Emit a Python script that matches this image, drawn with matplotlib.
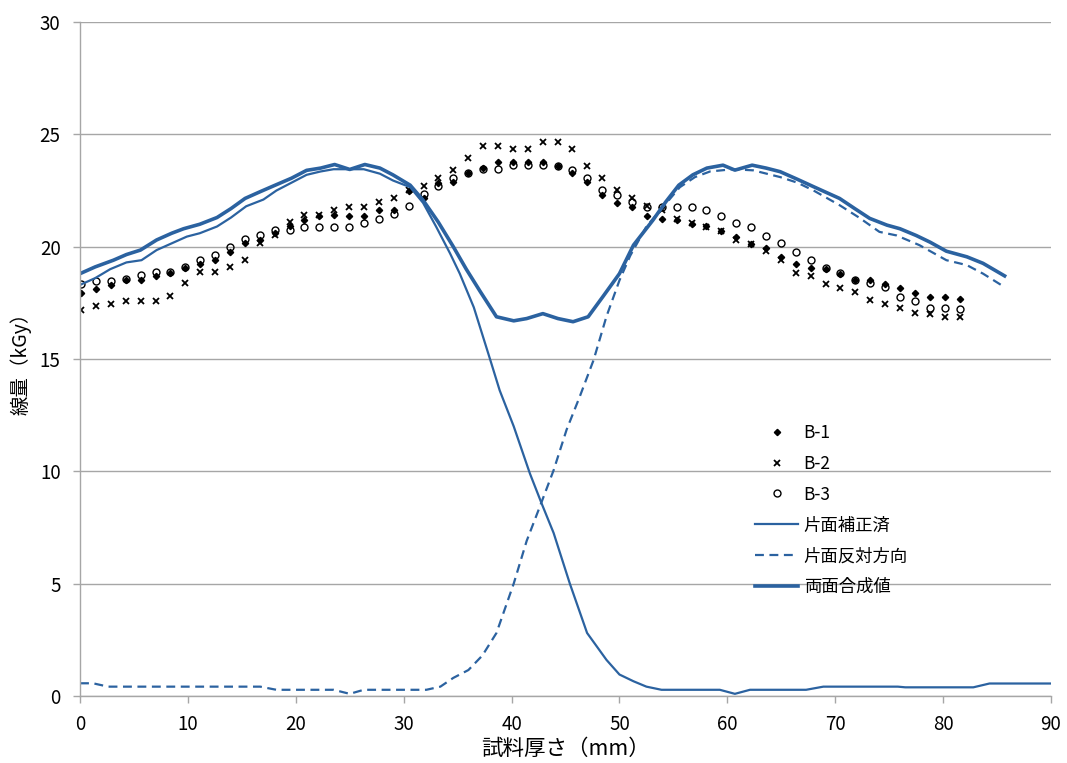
import numpy as np
import matplotlib
matplotlib.use("Agg")
import matplotlib.pyplot as plt

plt.rcParams['font.family'] = ['Noto Sans CJK JP', 'DejaVu Sans']

# 測定点 (B-1, B-2, B-3) : 60 points, ~1.38 mm pitch
x_pts = [round(i * 1.38 + 0.1, 2) for i in range(60)]

b1 = [17.95, 18.10, 18.30, 18.50, 18.50, 18.69, 18.85, 19.05, 19.25, 19.43,
      19.78, 20.15, 20.30, 20.60, 20.92, 21.21, 21.35, 21.40, 21.38, 21.38,
      21.63, 21.63, 22.50, 22.15, 22.85, 22.89, 23.30, 23.50, 23.75, 23.75,
      23.75, 23.75, 23.60, 23.26, 22.89, 22.30, 21.93, 21.78, 21.38, 21.23,
      21.20, 21.00, 20.90, 20.70, 20.44, 20.10, 19.95, 19.55, 19.23, 19.03,
      19.00, 18.80, 18.50, 18.51, 18.35, 18.14, 17.95, 17.74, 17.74, 17.68]

b2 = [17.20, 17.37, 17.45, 17.60, 17.60, 17.60, 17.80, 18.37, 18.89, 18.89,
      19.10, 19.43, 20.15, 20.52, 21.08, 21.40, 21.40, 21.63, 21.78, 21.78,
      21.97, 22.15, 22.52, 22.70, 23.04, 23.41, 23.93, 24.49, 24.49, 24.33,
      24.33, 24.67, 24.67, 24.33, 23.59, 23.04, 22.52, 22.15, 21.80, 21.63,
      21.23, 21.04, 20.89, 20.69, 20.32, 20.12, 19.80, 19.43, 18.85, 18.69,
      18.32, 18.14, 17.99, 17.62, 17.45, 17.25, 17.06, 16.99, 16.85, 16.88]

b3 = [18.36, 18.47, 18.47, 18.54, 18.73, 18.88, 18.88, 19.10, 19.43, 19.63,
      20.00, 20.34, 20.52, 20.74, 20.74, 20.89, 20.89, 20.89, 20.89, 21.07,
      21.24, 21.44, 21.81, 22.35, 22.70, 23.04, 23.26, 23.44, 23.44, 23.63,
      23.63, 23.63, 23.59, 23.41, 23.04, 22.52, 22.30, 22.00, 21.78, 21.78,
      21.78, 21.78, 21.63, 21.38, 21.04, 20.89, 20.49, 20.15, 19.78, 19.40,
      19.06, 18.85, 18.51, 18.37, 18.22, 17.77, 17.58, 17.25, 17.25, 17.22]

# 片面補正済
x_one = [0, 1.4, 2.8, 4.3, 5.7, 7.1, 8.5, 9.9, 11.1, 12.7, 14.0, 15.4, 17.0,
         18.2, 19.6, 21.0, 22.3, 23.5, 25.0, 26.3, 27.8, 29.0, 30.6, 31.8,
         33.0, 34.3, 35.2, 36.5, 38.0, 38.9, 40.2, 41.7, 42.8, 43.9,
         45.4, 47.0, 48.8, 50.0, 51.3, 52.5, 53.9, 55.5, 57.0, 59.3, 60.7,
         62.1, 64.0, 67.3, 68.9, 72.0, 75.8, 76.5, 80.0, 82.8, 84.3, 87.0, 90.0]
y_one = [18.3, 18.6, 19.0, 19.3, 19.4, 19.85, 20.15, 20.45, 20.6, 20.9, 21.3,
         21.8, 22.1, 22.5, 22.85, 23.2, 23.35, 23.45, 23.45, 23.45, 23.25,
         22.95, 22.65, 21.95, 20.9, 19.7, 18.8, 17.3, 15.0, 13.6, 12.0,
         9.9, 8.55, 7.25, 5.0, 2.8, 1.6, 0.95, 0.65, 0.41, 0.27, 0.27, 0.27,
         0.27, 0.09, 0.27, 0.27, 0.27, 0.41, 0.41, 0.41, 0.38, 0.38, 0.38,
         0.55, 0.55, 0.55]

# 片面反対方向
x_opp = [0, 1.2, 2.6, 6.0, 10.0, 14.0, 16.7, 18.2, 21.0, 23.5, 25.0, 26.3,
         29.0, 32.1, 33.4, 34.6, 36.0, 37.3, 38.6, 40.2, 41.4, 42.6, 43.9,
         45.1, 46.3, 47.6, 48.8, 50.0, 51.0, 52.5, 54.1, 55.6, 57.0, 58.4,
         60.5, 62.4, 64.9, 66.5, 68.0, 70.4, 72.2, 74.1, 75.7, 77.8, 80.3,
         82.2, 83.7, 85.7]
y_opp = [0.56, 0.56, 0.41, 0.41, 0.41, 0.41, 0.41, 0.27, 0.27, 0.27, 0.09,
         0.27, 0.27, 0.27, 0.41, 0.8, 1.15, 1.8, 2.8, 5.0, 6.9, 8.4, 10.05,
         11.85, 13.3, 14.95, 16.9, 18.5, 19.6, 20.9, 21.8, 22.65, 23.1, 23.35,
         23.45, 23.4, 23.1, 22.85, 22.5, 21.85, 21.3, 20.66, 20.5, 20.07, 19.4,
         19.18, 18.8, 18.2]

# 両面合成値
x_sum = [0, 1.4, 3.1, 4.3, 5.6, 7.1, 8.5, 9.6, 11.1, 12.7, 14.0, 15.3, 16.7,
         17.9, 19.6, 21.0, 22.3, 23.6, 25.0, 26.4, 27.8, 29.0, 30.6, 31.8,
         33.2, 34.6, 35.8, 37.1, 38.6, 40.2, 41.4, 42.9, 44.3, 45.7, 47.1,
         48.5, 50.0, 51.3, 53.1, 54.3, 55.5, 56.8, 58.1, 59.6, 60.7, 62.3,
         63.6, 64.9, 66.5, 68.0, 70.4, 71.8, 73.2, 74.8, 76.0, 77.5, 78.8,
         80.3, 82.2, 83.7, 85.7]
y_sum = [18.8, 19.1, 19.4, 19.65, 19.85, 20.3, 20.6, 20.8, 21.0, 21.3, 21.7,
         22.15, 22.45, 22.7, 23.05, 23.4, 23.5, 23.66, 23.44, 23.66, 23.5,
         23.2, 22.74, 22.07, 21.1, 20.0, 19.0, 18.0, 16.88, 16.7, 16.8, 17.02,
         16.8, 16.66, 16.88, 17.8, 18.8, 20.07, 21.18, 22.0, 22.74, 23.2, 23.5,
         23.63, 23.41, 23.63, 23.5, 23.34, 23.0, 22.67, 22.15, 21.7, 21.26,
         20.96, 20.8, 20.5, 20.2, 19.8, 19.55, 19.26, 18.7]

blue = '#2b62a0'
grid_c = '#a6a6a6'

fig = plt.figure(figsize=(10.67, 7.63), dpi=100)
ax = fig.add_axes([0.075, 0.088, 0.91, 0.883])

ax.plot(x_pts, b1, linestyle='none', marker='D', ms=3.2, color='black', label='B-1')
ax.plot(x_pts, b2, linestyle='none', marker='x', ms=4.5, mew=1.3, color='black', label='B-2')
ax.plot(x_pts, b3, linestyle='none', marker='o', ms=5, mew=1.0, mfc='none', mec='black', label='B-3')
ax.plot(x_one, y_one, color=blue, lw=1.6, label='片面補正済')
ax.plot(x_opp, y_opp, color=blue, lw=1.6, ls=(0, (4, 2.5)), label='片面反対方向')
ax.plot(x_sum, y_sum, color=blue, lw=2.6, label='両面合成値')

ax.set_xlim(0, 90)
ax.set_ylim(0, 30)
ax.set_xticks(range(0, 91, 10))
ax.set_yticks(range(0, 31, 5))
ax.grid(axis='y', color=grid_c, lw=1.0)
ax.set_axisbelow(True)
for s in ['top', 'right']:
    ax.spines[s].set_visible(False)
for s in ['left', 'bottom']:
    ax.spines[s].set_color(grid_c)
    ax.spines[s].set_linewidth(1.0)
ax.tick_params(axis='both', colors=grid_c, length=5, width=1.0,
               labelcolor='black', labelsize=13.5)
ax.tick_params(axis='x', pad=8)
ax.tick_params(axis='y', pad=9)

ax.set_xlabel('試料厚さ（mm）', fontsize=15.5, labelpad=2)
ax.set_ylabel('線量（kGy）', fontsize=14, labelpad=6)

leg = ax.legend(loc='upper left', bbox_to_anchor=(0.688, 0.414), frameon=False,
                fontsize=12.5, handlelength=2.5, labelspacing=0.74,
                handletextpad=0.3, borderaxespad=0)

fig.savefig('out.png', dpi=100)
